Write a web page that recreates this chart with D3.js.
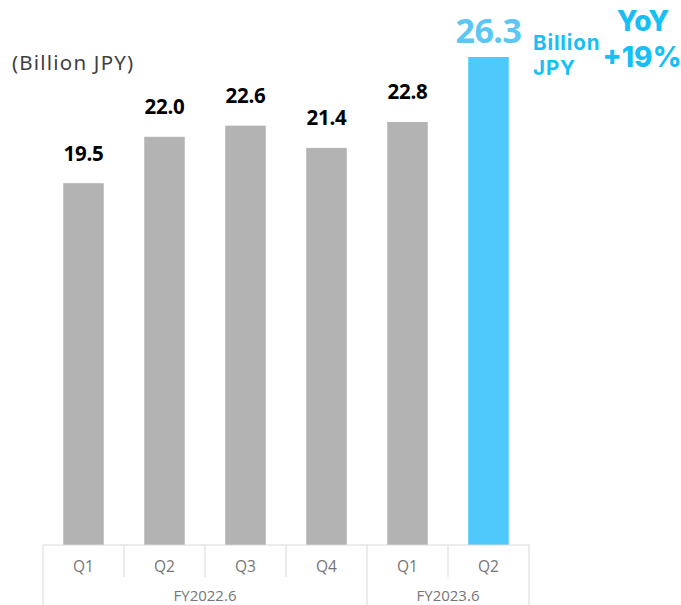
<!DOCTYPE html>
<html>
<head>
<meta charset="utf-8">
<script src="https://cdn.jsdelivr.net/npm/d3@7"></script>
<style>
  html, body { margin: 0; padding: 0; background: #fff; }
  svg { display: block; }
</style>
</head>
<body>
<svg id="chart" width="681" height="605"></svg>
<script>
// ---- data ----
const quarters = ["Q1", "Q2", "Q3", "Q4", "Q1", "Q2"];
const fiscalYears = ["FY2022.6", "FY2022.6", "FY2022.6", "FY2022.6", "FY2023.6", "FY2023.6"];
const revenue = [19.5, 22.0, 22.6, 21.4, 22.8, 26.3];
const valueLabels = ["19.5", "22.0", "22.6", "21.4", "22.8", "26.3"];
const unitLabel = "(Billion JPY)";
const highlightUnit = ["Billion", "JPY"];
const yoyLabel = ["YoY", "+19%"];

const svg = d3.select("#chart");
const W = 681, H = 605;
const left = 43, right = 529, baseY = 545;

const ids = quarters.map((q, i) => i);
const x = d3.scaleBand().domain(ids).range([left, right]).paddingInner(0.5).paddingOuter(0.25);
const y = d3.scaleLinear().domain([0, 26.3]).range([baseY, 57]);

const grey = "#b3b3b3", blue = "#4fc8fc", txtBlue = "#16bff4", lightBlue = "#5cc7f2";
const last = revenue.length - 1;

// bars
svg.append("g").selectAll("rect").data(revenue).join("rect")
  .attr("x", (d, i) => x(i))
  .attr("width", x.bandwidth())
  .attr("y", d => y(d))
  .attr("height", d => y(0) - y(d))
  .attr("fill", (d, i) => i === last ? blue : grey);

// value labels
svg.append("g").selectAll("text").data(revenue.slice(0, last)).join("text")
  .attr("x", (d, i) => x(i) + x.bandwidth() / 2)
  .attr("y", d => y(d) - 22.5)
  .attr("text-anchor", "middle")
  .attr("font-family", "'Open Sans', sans-serif")
  .attr("font-weight", 700)
  .attr("font-size", 20.5)
  .attr("letter-spacing", -0.3)
  .attr("fill", "#000")
  .text((d, i) => valueLabels[i]);

// highlighted label
svg.append("text")
  .attr("x", x(last) + x.bandwidth() / 2)
  .attr("y", y(revenue[last]) - 14)
  .attr("text-anchor", "middle")
  .attr("font-family", "'Open Sans', sans-serif")
  .attr("font-weight", 700)
  .attr("font-size", 34)
  .attr("letter-spacing", -0.5)
  .attr("fill", lightBlue)
  .text(valueLabels[last]);

const unitG = svg.append("text")
  .attr("font-family", "'Inter', 'Noto Sans', sans-serif")
  .attr("font-weight", 700)
  .attr("font-size", 20.5)
  .attr("letter-spacing", 0.9)
  .attr("fill", txtBlue);
unitG.append("tspan").attr("x", 533).attr("y", 50).text(highlightUnit[0]);
unitG.append("tspan").attr("x", 533).attr("y", 75).text(highlightUnit[1]);

const yoyG = svg.append("text")
  .attr("text-anchor", "middle")
  .attr("font-family", "'Inter', 'Noto Sans', sans-serif")
  .attr("font-weight", 800)
  .attr("font-size", 28)
  .attr("fill", txtBlue);
yoyG.append("tspan").attr("x", 643).attr("y", 31).text(yoyLabel[0]);
yoyG.append("tspan").attr("x", 642).attr("y", 67).text(yoyLabel[1]);

// unit
svg.append("text")
  .attr("x", 12).attr("y", 70)
  .attr("font-family", "'Noto Sans', sans-serif")
  .attr("font-weight", 400)
  .attr("font-size", 20.5)
  .attr("letter-spacing", 1.2)
  .attr("fill", "#404040")
  .text(unitLabel);

// category axis (two-level)
const lineColor = "#d9d9d9";
const axisG = svg.append("g");
axisG.append("line").attr("x1", left).attr("x2", right).attr("y1", baseY).attr("y2", baseY)
  .attr("stroke", lineColor).attr("stroke-width", 1);

const step = x.step();
const bounds = d3.range(ids.length + 1).map(i => left + i * step);
axisG.selectAll("line.sep").data(bounds).join("line")
  .attr("class", "sep")
  .attr("x1", d => d).attr("x2", d => d)
  .attr("y1", baseY)
  .attr("y2", (d, i) => (i === 0 || i === ids.length || fiscalYears[i] !== fiscalYears[i - 1]) ? H : 577)
  .attr("stroke", lineColor).attr("stroke-width", 1);

axisG.selectAll("text.q").data(quarters).join("text")
  .attr("class", "q")
  .attr("x", (d, i) => x(i) + x.bandwidth() / 2)
  .attr("y", 572)
  .attr("text-anchor", "middle")
  .attr("font-family", "'Open Sans', sans-serif")
  .attr("font-size", 15.5)
  .attr("fill", "#767676")
  .text(d => d);

const fyGroups = d3.groups(ids, i => fiscalYears[i]);
axisG.selectAll("text.fy").data(fyGroups).join("text")
  .attr("class", "fy")
  .attr("x", d => {
    const a = x(d[1][0]) - (step - x.bandwidth()) / 2;
    const b = x(d[1][d[1].length - 1]) + x.bandwidth() + (step - x.bandwidth()) / 2;
    return (a + b) / 2;
  })
  .attr("y", 601)
  .attr("text-anchor", "middle")
  .attr("font-family", "'Open Sans', sans-serif")
  .attr("font-size", 15)
  .attr("fill", "#767676")
  .text(d => d[0]);
</script>
</body>
</html>
